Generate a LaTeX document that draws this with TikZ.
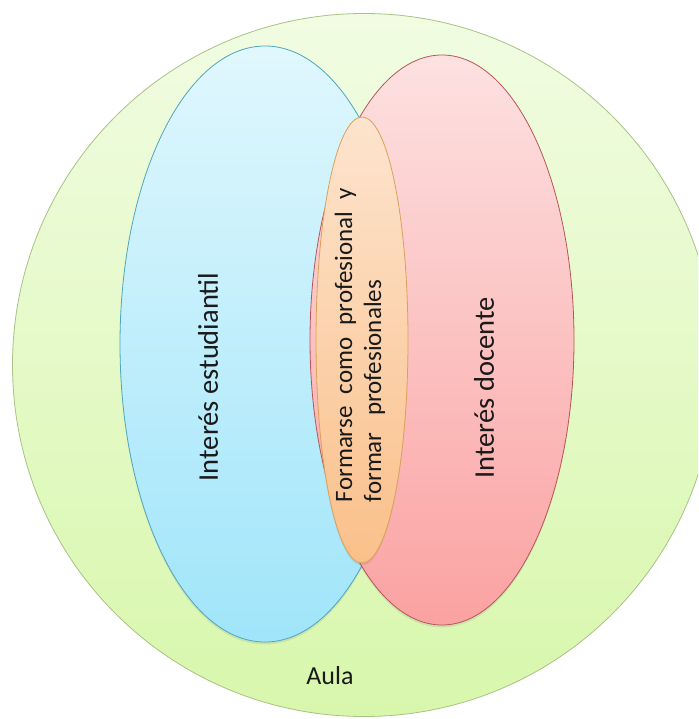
\documentclass[tikz,border=0pt]{standalone}
\usepackage{fontspec}
\setmainfont{Carlito}
\usetikzlibrary{shapes.geometric,shadows}
\definecolor{grtop}{HTML}{F1FCE2}
\definecolor{grbot}{HTML}{D8F7AC}
\definecolor{grline}{HTML}{A9C285}
\definecolor{bltop}{HTML}{E0F7FD}
\definecolor{blbot}{HTML}{A0E5FA}
\definecolor{blline}{HTML}{4FA6BE}
\definecolor{pktop}{HTML}{FDE1E1}
\definecolor{pkbot}{HTML}{FBA2A2}
\definecolor{pkline}{HTML}{B65656}
\definecolor{ortop}{HTML}{FDE4CE}
\definecolor{orbot}{HTML}{FAC08A}
\definecolor{orline}{HTML}{DDA05A}
\definecolor{txt}{HTML}{1A1A1A}
\tikzset{
  venn/.style={ellipse, inner sep=0pt, line width=0.8pt,
    drop shadow={opacity=0.18, shadow xshift=0pt, shadow yshift=-2.5pt}},
  bigtxt/.style={font=\fontsize{28.5}{32}\selectfont, text=txt, rotate=90, inner sep=0pt},
  midtxt/.style={font=\fontsize{25}{29}\selectfont, text=txt, rotate=90, align=left, inner sep=0pt},
  aulatxt/.style={font=\fontsize{26}{28}\selectfont, text=txt, inner sep=0pt}
}
\begin{document}
\begin{tikzpicture}[x=1pt,y=-1pt]
\useasboundingbox (0,0) rectangle (698,719);
\clip (0,0) rectangle (698,719);
\fill[white] (0,0) rectangle (698,719);
\node[circle, minimum size=703pt, inner sep=0pt, line width=0.8pt, draw=grline,
      top color=grtop, bottom color=grbot] (aula) at (364,365) {};
\node[venn, minimum width=290pt, minimum height=596pt, draw=blline,
      top color=bltop, bottom color=blbot] (est) at (265,344) {};
\node[venn, minimum width=264pt, minimum height=570pt, draw=pkline,
      top color=pktop, bottom color=pkbot] (doc) at (442,340) {};
\node[venn, minimum width=92pt, minimum height=446pt, draw=orline,
      top color=ortop, bottom color=orbot] (form) at (362,340) {};
\node[bigtxt] (testu) at (208,377) {Interés estudiantil};
\node[bigtxt] (tdoc) at (484,388) {Interés docente};
\node[midtxt] (tform) at (360,345) {\makebox[314pt][s]{Formarse como profesional y}\\\makebox[222pt][s]{formar profesionales}};
\node[aulatxt] (taula) at (330,676) {Aula};
\end{tikzpicture}
\end{document}
